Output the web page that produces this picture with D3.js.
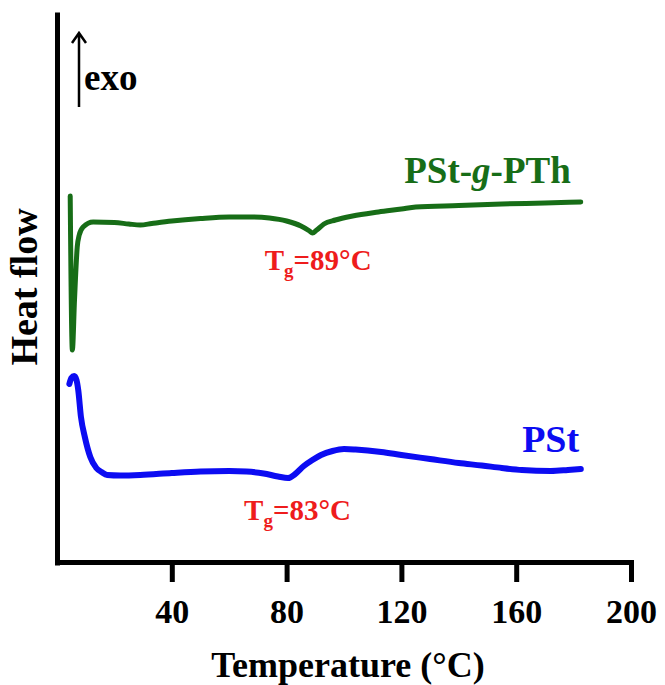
<!DOCTYPE html>
<html>
<head>
<meta charset="utf-8">
<script src="https://cdn.jsdelivr.net/npm/d3@7"></script>
<style>
  body { margin: 0; background: #fff; }
  svg text { font-family: 'Liberation Serif', 'Times New Roman', serif; font-weight: bold; }
</style>
</head>
<body>
<script>
'use strict';

const width = 665;
const height = 685;

// DSC traces, [temperature °C, heat flow (a.u.)]
const copolymer = [
  [4.6, 369], [5.35, 215], [6.1, 265], [7.05, 318], [7.75, 330], [9.1, 338],
  [12.6, 343], [20, 342.5], [25, 341], [29, 340], [33, 341.5], [40, 344],
  [50, 346.5], [60, 348], [68, 348], [74, 347], [80, 344], [85, 339],
  [88, 334], [89, 332], [90.5, 335], [93, 341], [97, 345], [103, 349],
  [112, 353], [120, 356], [125, 358], [140, 359.5], [155, 361], [170, 362],
  [182.5, 363]
];
const pst = [
  [4.3, 181], [5.0, 187], [6.0, 189], [6.8, 185], [7.4, 175], [8.35, 148],
  [9.7, 128], [11.6, 108], [13.7, 97], [15.5, 93], [17.5, 90], [22, 89.5],
  [29, 90], [40, 92], [50, 93.5], [60, 94], [66, 93.5], [72, 91.5],
  [77, 88.5], [80.5, 87], [83, 91], [86, 99], [89, 105], [92, 110],
  [96, 114], [100, 116], [104, 115.5], [113, 113], [120, 110], [130, 106],
  [140, 102], [148, 99.5], [155, 97], [162, 95], [172, 94], [178, 95],
  [182.5, 96]
];
const xTicks = [40, 80, 120, 160, 200];
const tgLabels = [
  { t: 91, v: 295, value: '89' },
  { t: 83.8, v: 45, value: '83' }
];

const svg = d3.select('body')
  .append('svg')
  .attr('width', width)
  .attr('height', height);

const x = d3.scaleLinear()
  .domain([0, 200])
  .range([57, 631]);

const y = d3.scaleLinear()
  .domain([0, 553])
  .range([565, 12]);

const xAxis = d3.axisBottom(x)
  .tickValues(xTicks)
  .tickSize(20)
  .tickSizeOuter(0)
  .tickFormat(d3.format('d'));

const gx = svg.append('g')
  .attr('transform', 'translate(0, 562)')
  .call(xAxis);

gx.select('.domain')
  .attr('stroke', '#000')
  .attr('stroke-width', 5)
  .attr('stroke-linecap', 'square');
gx.selectAll('.tick line')
  .attr('stroke', '#000')
  .attr('stroke-width', 5);
gx.selectAll('.tick text')
  .attr('y', 61)
  .attr('dy', null)
  .attr('fill', '#000')
  .attr('font-size', '34px')
  .attr('font-family', "'Liberation Serif', serif");

const gy = svg.append('g')
  .attr('transform', `translate(${x(0)}, 0)`)
  .call(d3.axisLeft(y).tickValues([]).tickSizeOuter(0));

gy.select('.domain')
  .attr('stroke', '#000')
  .attr('stroke-width', 5);

svg.append('text')
  .attr('x', 348)
  .attr('y', 677)
  .attr('text-anchor', 'middle')
  .attr('font-size', '36px')
  .text('Temperature (°C)');

svg.append('text')
  .attr('transform', 'translate(37, 287) rotate(-90)')
  .attr('text-anchor', 'middle')
  .attr('font-size', '38px')
  .text('Heat flow');

// exo arrow
svg.append('path')
  .attr('d', 'M79,107 L79,33 M72,43 L79,33 L86,43')
  .attr('fill', 'none')
  .attr('stroke', '#000')
  .attr('stroke-width', 2.5);

svg.append('text')
  .attr('x', 84)
  .attr('y', 90)
  .attr('font-size', '37px')
  .text('exo');

const line = d3.line()
  .x((d) => x(d[0]))
  .y((d) => y(d[1]))
  .curve(d3.curveMonotoneX);

svg.append('path')
  .datum(copolymer)
  .attr('d', line)
  .attr('fill', 'none')
  .attr('stroke', '#176d17')
  .attr('stroke-width', 5)
  .attr('stroke-linecap', 'round')
  .attr('stroke-linejoin', 'round');

svg.append('path')
  .datum(pst)
  .attr('d', line)
  .attr('fill', 'none')
  .attr('stroke', '#0c0cf2')
  .attr('stroke-width', 6)
  .attr('stroke-linecap', 'round')
  .attr('stroke-linejoin', 'round');

// series labels
const cLabel = svg.append('text')
  .attr('x', x(150))
  .attr('y', y(382))
  .attr('text-anchor', 'middle')
  .attr('font-size', '37px')
  .attr('fill', '#176d17');
cLabel.append('tspan').text('PSt-');
cLabel.append('tspan').attr('font-style', 'italic').text('g');
cLabel.append('tspan').text('-PTh');

svg.append('text')
  .attr('x', x(172))
  .attr('y', y(113))
  .attr('text-anchor', 'middle')
  .attr('font-size', '38px')
  .attr('fill', '#0c0cf2')
  .text('PSt');

// glass transition labels
const tg = svg.selectAll('text.tg')
  .data(tgLabels)
  .enter()
  .append('text')
  .attr('class', 'tg')
  .attr('x', (d) => x(d.t))
  .attr('y', (d) => y(d.v))
  .attr('text-anchor', 'middle')
  .attr('font-size', '29px')
  .attr('fill', '#ee1c1c');
tg.append('tspan').text('T');
tg.append('tspan').attr('font-size', '19px').attr('dy', 7).text('g');
tg.append('tspan').attr('dy', -7).text((d) => `=${d.value}°C`);
</script>
</body>
</html>
